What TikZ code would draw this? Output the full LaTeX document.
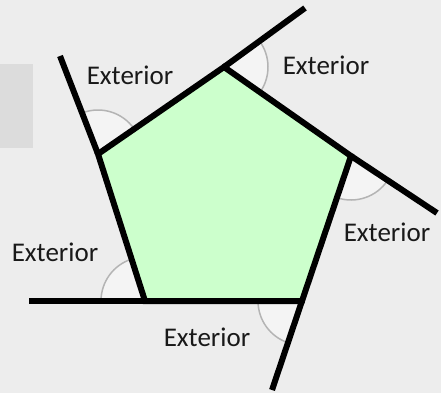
\documentclass[tikz,border=0pt]{standalone}
\usepackage{fontspec}
\setmainfont{Carlito}
\usetikzlibrary{angles}
\definecolor{bggray}{HTML}{EDEDED}
\definecolor{boxgray}{HTML}{DCDCDC}
\definecolor{pentgreen}{HTML}{CCFFCC}
\definecolor{arcgray}{HTML}{B4B4B4}
\definecolor{arcfill}{HTML}{F4F4F4}
\begin{document}
\begin{tikzpicture}[x=1pt,y=-1pt,
  every node/.style={font=\fontsize{27}{32}\selectfont,text=black!90,inner sep=0pt},
  side/.style={line width=6pt,line join=miter},
  extangle/.style={draw=arcgray,fill=arcfill,line width=1.5pt,angle radius=44pt}]
\useasboundingbox[fill=bggray] (0,0) rectangle (441,393);
\fill[boxgray] (0,64) rectangle (33,148);

\coordinate (L) at (98,154);
\coordinate (T) at (224,67);
\coordinate (R) at (351,156);
\coordinate (BR) at (302,301);
\coordinate (BL) at (145,301);

\coordinate (eL) at (60,56);
\coordinate (eT) at (305,8);
\coordinate (eR) at (437,213);
\coordinate (eBR) at (272,390);
\coordinate (eBL) at (29,301);

\fill[pentgreen] (L) -- (T) -- (R) -- (BR) -- (BL) -- cycle;

\pic[extangle] {angle = T--L--eL};
\pic[extangle] {angle = R--T--eT};
\pic[extangle] {angle = BR--R--eR};
\pic[extangle] {angle = BL--BR--eBR};
\pic[extangle] {angle = L--BL--eBL};

\draw[side] (L) -- (T) -- (R) -- (BR) -- (BL) -- cycle;
\draw[side] (L) -- (eL);
\draw[side] (T) -- (eT);
\draw[side] (R) -- (eR);
\draw[side] (BR) -- (eBR);
\draw[side] (BL) -- (eBL);

\node (extL) at (130,75) {Exterior};
\node (extT) at (326,65) {Exterior};
\node (extR) at (387,232) {Exterior};
\node (extBL) at (55,252) {Exterior};
\node (extBR) at (207,337) {Exterior};

\end{tikzpicture}
\end{document}
